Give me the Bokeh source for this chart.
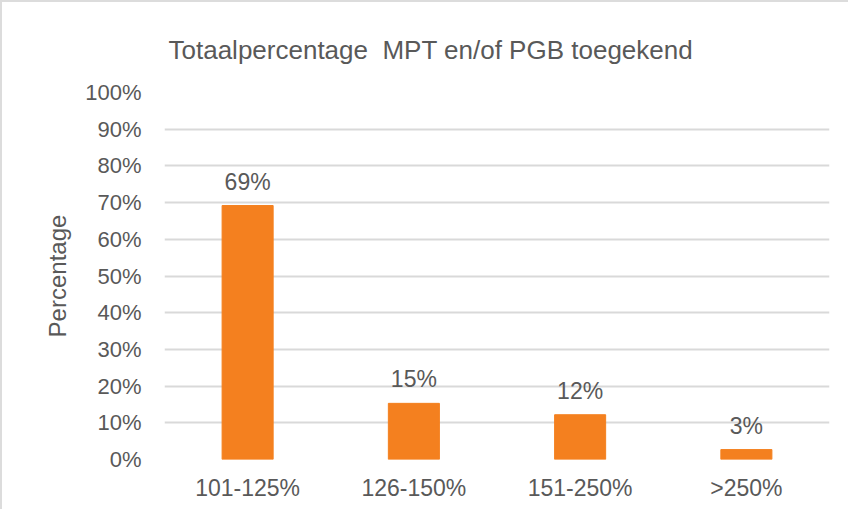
from bokeh.plotting import figure
from bokeh.models import ColumnDataSource, Range1d, FactorRange, FixedTicker, PrintfTickFormatter, LabelSet
from bokeh.core.properties import value
from bokeh.embed import file_html
from bokeh.resources import INLINE

categories = ["101-125%", "126-150%", "151-250%", ">250%"]
values = [69.2, 15.3, 12.2, 2.7]
value_labels = ["69%", "15%", "12%", "3%"]
y_ticks = [0, 10, 20, 30, 40, 50, 60, 70, 80, 90, 100]

FONT = "Liberation Sans"
TEXT = "#595959"

src = ColumnDataSource(dict(cat=categories, val=values, lab=value_labels))

p = figure(x_range=FactorRange(*categories), y_range=Range1d(0, 100),
           width=848, height=509, output_backend="svg", toolbar_location=None,
           min_border_left=162, min_border_right=21, min_border_top=90, min_border_bottom=52)
p.styles = {"border-left": "2px solid #DCDCDC", "border-top": "2px solid #DCDCDC"}

p.title.text = "Totaalpercentage\u00a0 MPT en/of PGB toegekend"
p.title.text_font = FONT
p.title.text_font_size = "26px"
p.title.text_font_style = "normal"
p.title.text_color = TEXT
p.title.align = "left"
p.title.offset = 4
p.title.standoff = 56

p.vbar(x="cat", top="val", width=0.307, source=src, color="#F4801F")

labels = LabelSet(x="cat", y="val", text="lab", source=src, y_offset=16,
                  text_align="center", text_baseline="alphabetic",
                  text_font=value(FONT), text_font_size=value("23px"), text_color=TEXT)
p.add_layout(labels)

p.outline_line_color = None
p.xgrid.grid_line_color = None
p.ygrid.grid_line_color = "#D9D9D9"
p.ygrid.grid_line_width = 2

p.yaxis.ticker = FixedTicker(ticks=y_ticks)
p.yaxis.formatter = PrintfTickFormatter(format="%d%%")
p.yaxis.axis_label = "Percentage"
p.yaxis.axis_label_text_font = FONT
p.yaxis.axis_label_text_font_size = "24px"
p.yaxis.axis_label_text_font_style = "normal"
p.yaxis.axis_label_text_color = TEXT
p.yaxis.axis_label_standoff = 11

for ax in (p.xaxis, p.yaxis):
    ax.axis_line_color = None
    ax.major_tick_line_color = None
    ax.minor_tick_line_color = None
    ax.major_label_text_font = FONT
    ax.major_label_text_color = TEXT
    ax.major_label_text_font_size = "23px"

p.yaxis.major_label_text_font_size = "22px"
p.yaxis.major_label_standoff = 17
p.xaxis.major_label_standoff = 9

open("out.html", "w").write(file_html(p, INLINE))
